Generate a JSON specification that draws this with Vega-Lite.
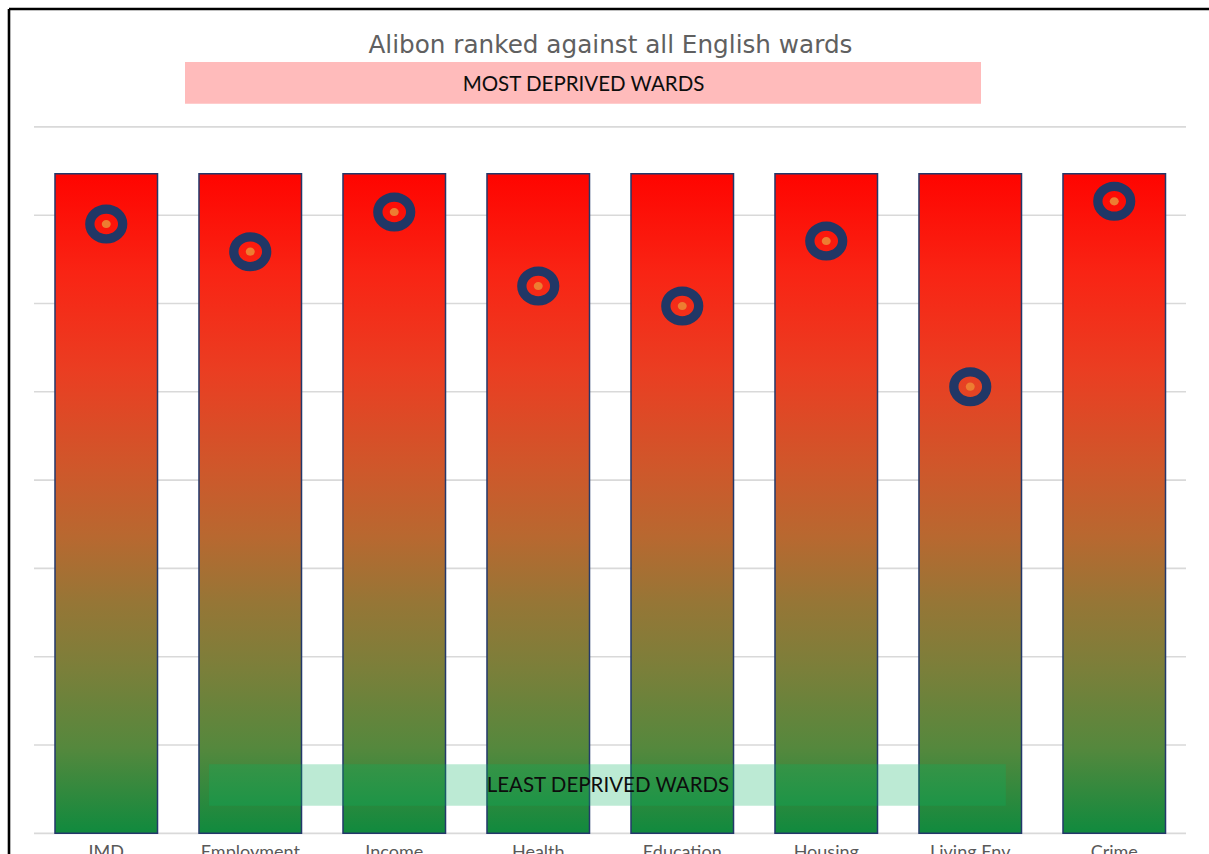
{
  "$schema": "https://vega.github.io/schema/vega-lite/v6.json",
  "width": 1200,
  "height": 845,
  "autosize": {"type": "none"},
  "padding": {"left": 9, "top": 9, "right": 0, "bottom": 0},
  "background": "white",
  "config": {"view": {"stroke": null}},
  "datasets": {
    "wards": [
      {"domain": "IMD", "rank": 6900, "total": 7470},
      {"domain": "Employment", "rank": 6587, "total": 7470},
      {"domain": "Income", "rank": 7036, "total": 7470},
      {"domain": "Health", "rank": 6198, "total": 7470},
      {"domain": "Education", "rank": 5972, "total": 7470},
      {"domain": "Housing", "rank": 6708, "total": 7470},
      {"domain": "Living Env", "rank": 5058, "total": 7470},
      {"domain": "Crime", "rank": 7157, "total": 7470}
    ],
    "grid": [
      {"g": 0}, {"g": 1000}, {"g": 2000}, {"g": 3000}, {"g": 4000},
      {"g": 5000}, {"g": 6000}, {"g": 7000}, {"g": 8000}
    ],
    "banners": [
      {"label": "MOST DEPRIVED WARDS", "x0": 1.0486, "x1": 6.5764, "y0": 8263, "y1": 8735, "tx": 3.816, "ty": 8412, "fill": "#FFBBBB", "op": 1},
      {"label": "LEAST DEPRIVED WARDS", "x0": 1.215, "x1": 6.7486, "y0": 313, "y1": 781, "tx": 3.986, "ty": 467, "fill": "#06B060", "op": 0.27}
    ]
  },
  "layer": [
    {
      "layer": [
        {
          "data": {"name": "grid"},
          "mark": {"type": "rule", "color": "#D9D9D9", "strokeWidth": 1.6},
          "encoding": {
            "x": {"datum": 0, "type": "quantitative", "scale": {"domain": [-0.17361, 8.15972], "nice": false, "zero": false}, "axis": null},
            "x2": {"datum": 8},
            "y": {"field": "g", "type": "quantitative", "scale": {"domain": [-234, 9335], "nice": false, "zero": false}, "axis": null}
          }
        },
        {
          "data": {"values": [{"edge": "top"}]},
          "mark": {"type": "rule", "color": "#000000", "strokeWidth": 2.6},
          "encoding": {
            "x": {"datum": -0.17361, "type": "quantitative"},
            "x2": {"datum": 8.15972},
            "y": {"datum": 9335, "type": "quantitative"}
          }
        },
        {
          "data": {"values": [{"edge": "left"}]},
          "mark": {"type": "rule", "color": "#000000", "strokeWidth": 2.6},
          "encoding": {
            "x": {"datum": -0.17361, "type": "quantitative"},
            "y": {"datum": -234, "type": "quantitative"},
            "y2": {"datum": 9335}
          }
        }
      ]
    },
    {
      "data": {"name": "wards"},
      "encoding": {
        "x": {
          "field": "domain", "type": "nominal", "sort": null, "axis": null,
          "scale": {"paddingInner": 0.288, "paddingOuter": 0.3107, "align": 0.514}
        }
      },
      "layer": [
        {
          "mark": {
            "type": "bar",
            "stroke": "#23386A",
            "strokeWidth": 1.5,
            "fill": {
              "gradient": "linear", "x1": 0, "y1": 0, "x2": 0, "y2": 1,
              "stops": [
                {"offset": 0, "color": "#FF0400"},
                {"offset": 0.15, "color": "#F92414"},
                {"offset": 0.3, "color": "#EA3E22"},
                {"offset": 0.45, "color": "#CE582B"},
                {"offset": 0.55, "color": "#B86830"},
                {"offset": 0.65, "color": "#967636"},
                {"offset": 0.75, "color": "#7B7F3A"},
                {"offset": 0.87, "color": "#55883D"},
                {"offset": 1, "color": "#108A3E"}
              ]
            }
          },
          "encoding": {
            "y": {"field": "total", "type": "quantitative", "axis": null},
            "y2": {"datum": 0}
          }
        },
        {
          "mark": {
            "type": "point", "filled": false, "stroke": "#213766", "strokeWidth": 9.3, "opacity": 1,
            "shape": "M-1,0A1,0.905,0,1,1,1,0A1,0.905,0,1,1,-1,0Z", "size": 1080
          },
          "encoding": {"y": {"field": "rank", "type": "quantitative"}}
        },
        {
          "mark": {
            "type": "point", "filled": true, "fill": "#ED7D31", "opacity": 1, "strokeWidth": 0,
            "shape": "M-1,0A1,0.905,0,1,1,1,0A1,0.905,0,1,1,-1,0Z", "size": 81
          },
          "encoding": {"y": {"field": "rank", "type": "quantitative"}}
        },
        {
          "mark": {"type": "text", "font": "Lato", "fontSize": 18, "color": "#595959", "baseline": "alphabetic", "align": "center"},
          "encoding": {
            "y": {"datum": -280, "type": "quantitative"},
            "text": {"field": "domain"}
          }
        }
      ]
    },
    {
      "data": {"name": "banners"},
      "layer": [
        {
          "mark": {"type": "rect", "stroke": null},
          "encoding": {
            "x": {"field": "x0", "type": "quantitative", "scale": {"domain": [-0.17361, 8.15972], "nice": false, "zero": false}, "axis": null},
            "x2": {"field": "x1"},
            "y": {"field": "y0", "type": "quantitative"},
            "y2": {"field": "y1"},
            "fill": {"field": "fill", "type": "nominal", "scale": null},
            "opacity": {"field": "op", "type": "quantitative", "scale": null}
          }
        },
        {
          "mark": {"type": "text", "font": "Lato", "fontSize": 20.5, "color": "#0D0D0D", "baseline": "alphabetic", "align": "center"},
          "encoding": {
            "x": {"field": "tx", "type": "quantitative"},
            "y": {"field": "ty", "type": "quantitative"},
            "text": {"field": "label"}
          }
        },
        {
          "data": {"values": [{"title": "Alibon ranked against all English wards", "tx": 4.003, "ty": 8834}]},
          "mark": {"type": "text", "font": "DejaVu Sans", "fontSize": 24.7, "color": "#606060", "baseline": "alphabetic", "align": "center"},
          "encoding": {
            "x": {"field": "tx", "type": "quantitative"},
            "y": {"field": "ty", "type": "quantitative"},
            "text": {"field": "title"}
          }
        }
      ]
    }
  ],
  "resolve": {"scale": {"x": "independent"}}
}
